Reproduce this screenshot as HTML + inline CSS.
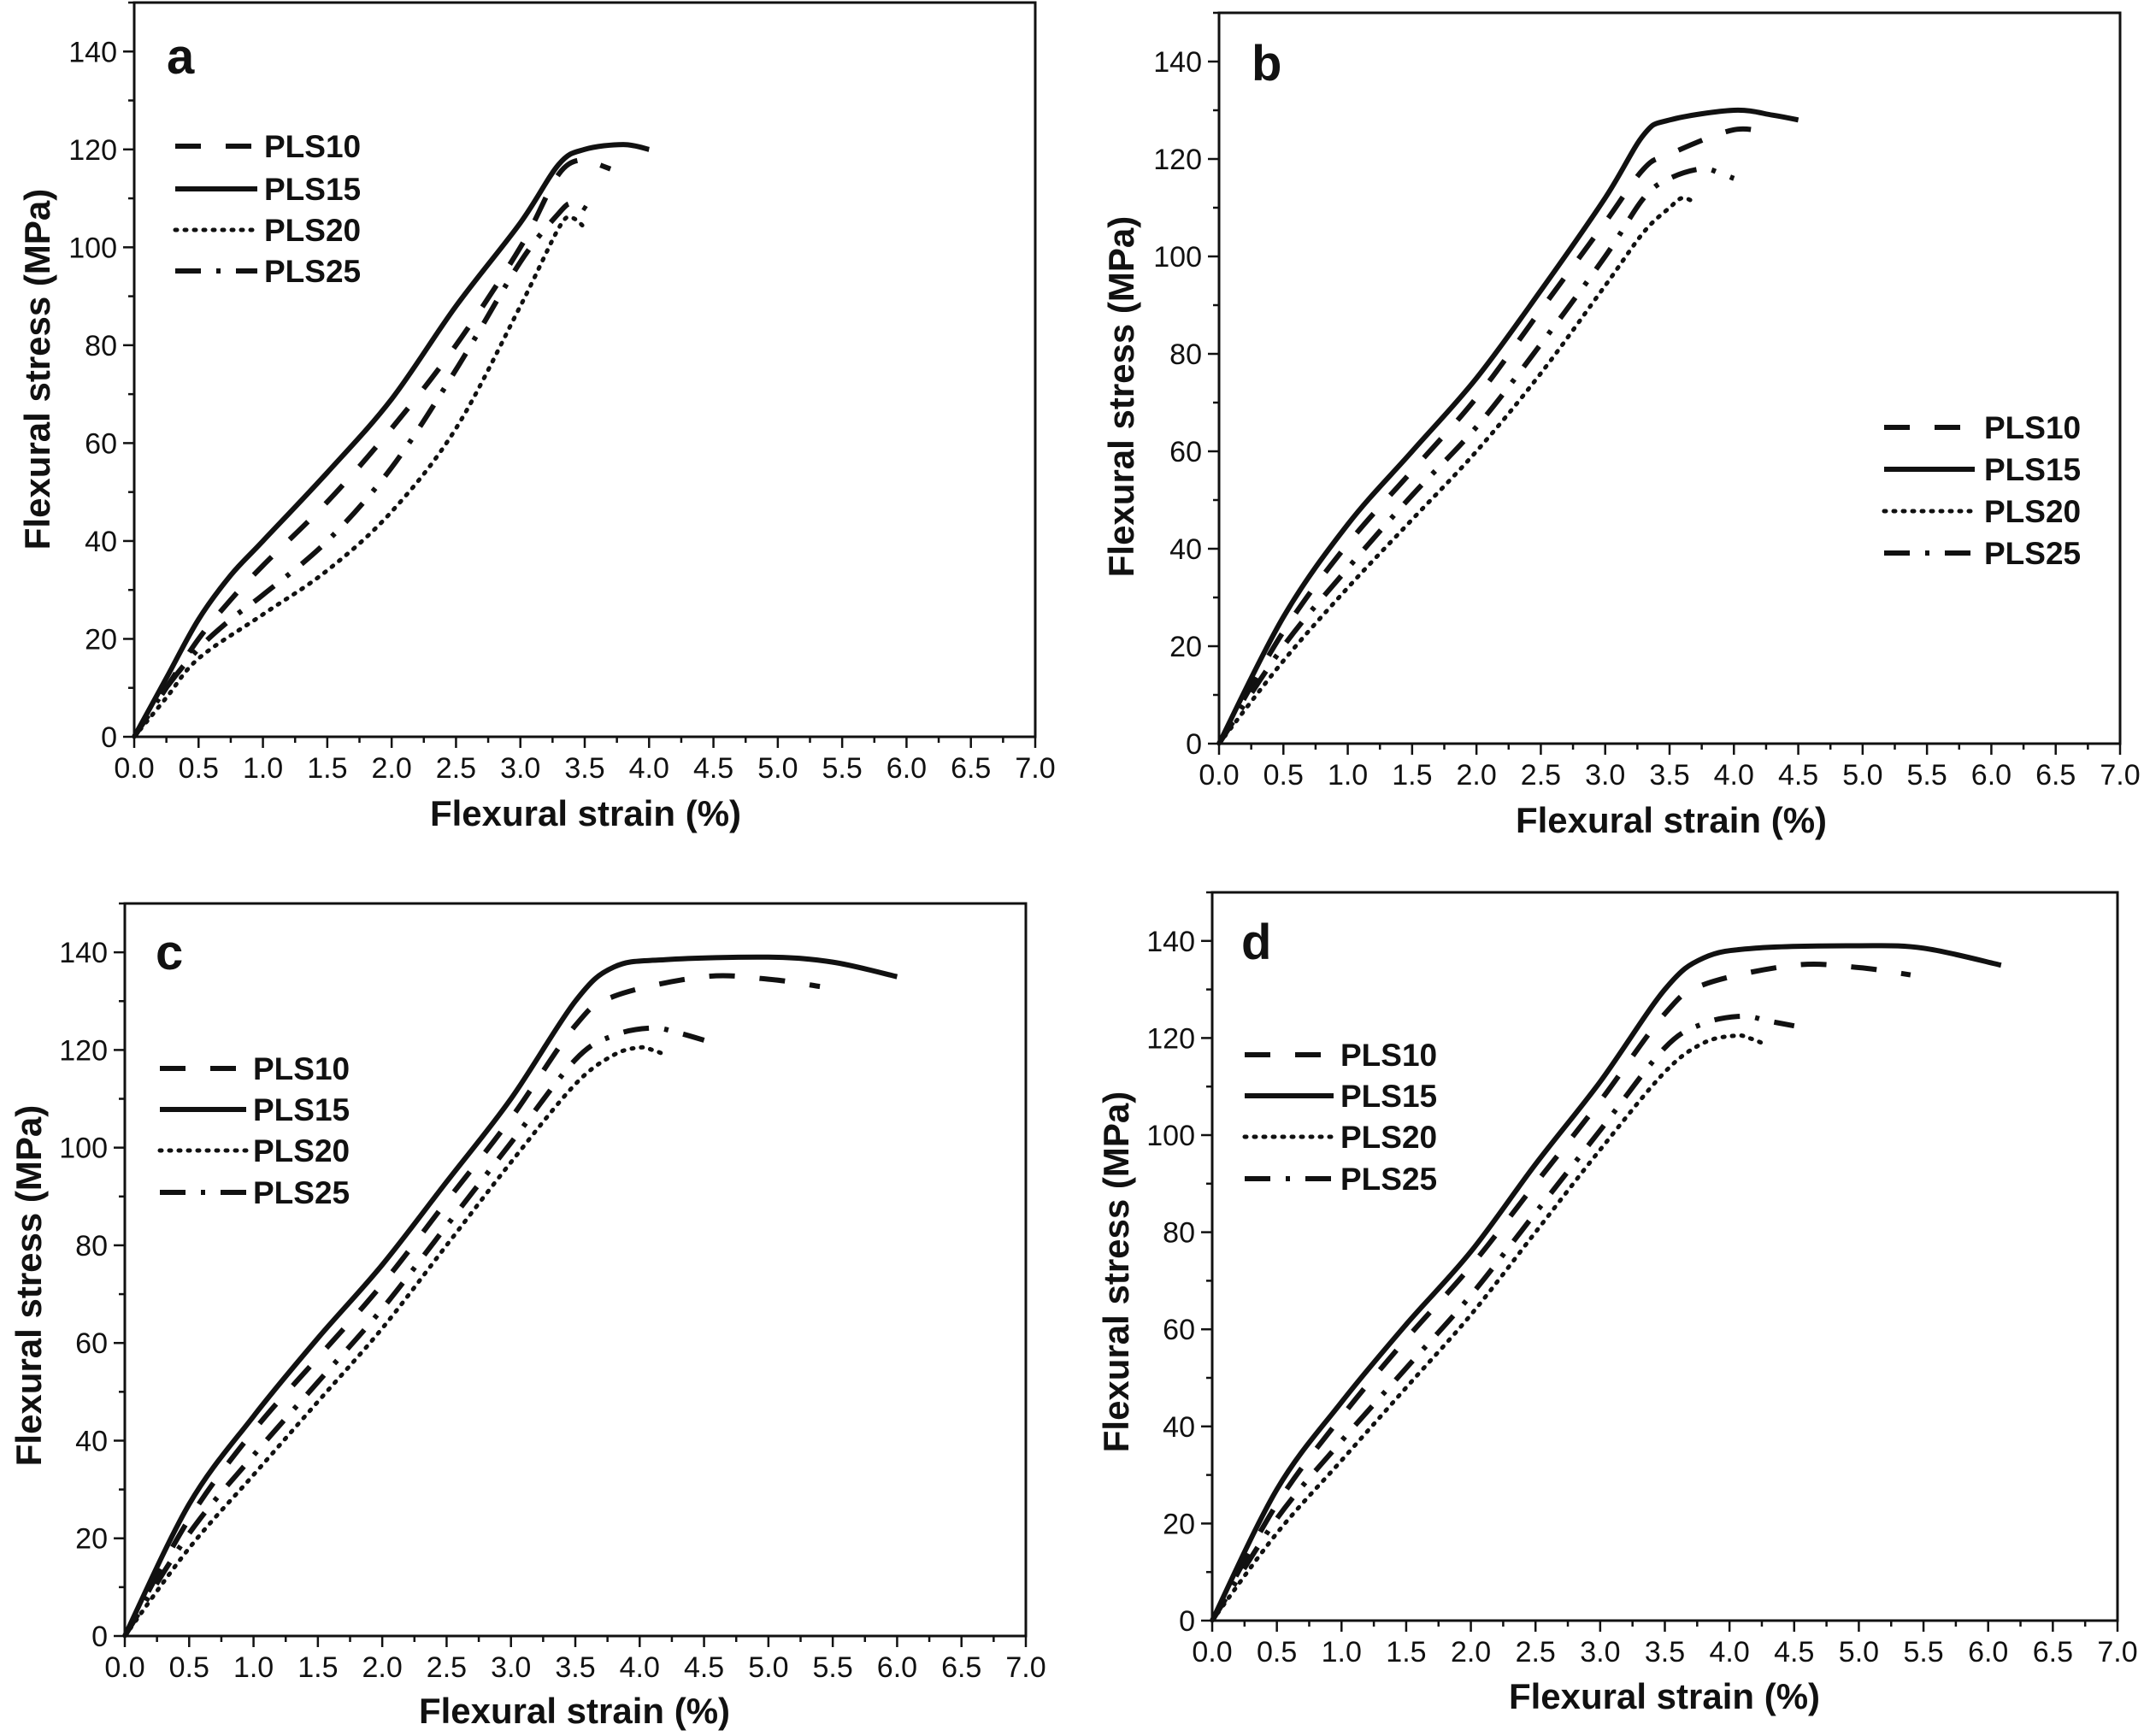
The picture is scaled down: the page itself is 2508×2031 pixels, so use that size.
<!DOCTYPE html>
<html><head><meta charset="utf-8"><style>
html,body{margin:0;padding:0;background:#fff;}
svg{display:block;}
text{font-family:"Liberation Sans",Arial,sans-serif;fill:#111;}
</style></head><body>
<svg id="fig" width="2508" height="2031" viewBox="0 0 2508 2031" xmlns="http://www.w3.org/2000/svg"></svg>
<script>
// ---- data (strain %, stress MPa) ----
const seriesNames = ["PLS10","PLS15","PLS20","PLS25"];
const xTicks = [0,0.5,1,1.5,2,2.5,3,3.5,4,4.5,5,5.5,6,6.5,7];
const yTicks = [0,20,40,60,80,100,120,140];

const a_PLS15 = [[0,0],[0.25,12],[0.5,24],[0.75,33],[1.0,40],[1.5,54],[2.0,69],[2.5,88],[3.0,105],[3.3,117],[3.5,120],[3.8,121],[4.0,120]];
const a_PLS10 = [[0,0],[0.25,10],[0.5,20],[0.75,28],[1.0,35],[1.5,48],[2.0,63],[2.5,80],[3.0,100],[3.3,115],[3.5,118],[3.6,117],[3.7,116]];
const a_PLS20 = [[0,0],[0.25,8],[0.5,16],[1.0,25],[1.5,34],[2.0,46],[2.5,63],[3.0,88],[3.3,104],[3.4,106],[3.5,104]];
const a_PLS25 = [[0,0],[0.25,10],[0.5,18],[0.75,24],[1.0,29],[1.5,40],[2.0,55],[2.5,75],[3.0,97],[3.3,107],[3.4,109],[3.5,108],[3.6,106]];

const b_PLS15 = [[0,0],[0.5,26],[1.0,45],[1.5,60],[2.0,75],[2.5,93],[3.0,112],[3.3,125],[3.5,128],[4.0,130],[4.3,129],[4.5,128]];
const b_PLS10 = [[0,0],[0.5,23],[1.0,41],[1.5,56],[2.0,71],[2.5,89],[3.0,107],[3.3,118],[3.5,121],[4.0,126],[4.3,125]];
const b_PLS20 = [[0,0],[0.5,17],[1.0,32],[1.5,46],[2.0,60],[2.5,76],[3.0,94],[3.3,105],[3.5,110],[3.6,112],[3.7,111]];
const b_PLS25 = [[0,0],[0.5,20],[1.0,36],[1.5,51],[2.0,65],[2.5,82],[3.0,100],[3.3,112],[3.5,116],[3.75,118],[3.9,117],[4.0,116]];

const c_PLS15 = [[0,0],[0.5,27],[1.0,45],[1.5,61],[2.0,76],[2.5,93],[3.0,110],[3.5,130],[3.8,137],[4.2,138.5],[5.0,139],[5.5,138],[6.0,135]];
const c_PLS10 = [[0,0],[0.5,24],[1.0,42],[1.5,57],[2.0,72],[2.5,89],[3.0,106],[3.5,125],[3.8,131],[4.5,135],[5.0,134.5],[5.4,133]];
const c_PLS20 = [[0,0],[0.5,18],[1.0,33],[1.5,48],[2.0,63],[2.5,80],[3.0,97],[3.5,113],[3.8,119],[4.0,120.5],[4.1,120],[4.2,119]];
const c_PLS25 = [[0,0],[0.5,21],[1.0,37],[1.5,52],[2.0,67],[2.5,84],[3.0,101],[3.5,118],[3.8,123],[4.1,124.5],[4.3,123.5],[4.5,122]];

const d_PLS15 = [[0,0],[0.5,27],[1.0,45],[1.5,61],[2.0,76],[2.5,94],[3.0,111],[3.5,130],[3.8,136.5],[4.2,138.5],[5.0,139],[5.5,138.5],[6.1,135]];
const d_PLS10 = [[0,0],[0.5,24],[1.0,42],[1.5,58],[2.0,73],[2.5,90],[3.0,107],[3.5,125],[3.8,131],[4.5,135],[5.0,134.5],[5.4,133]];
const d_PLS20 = [[0,0],[0.5,18],[1.0,33],[1.5,48],[2.0,63],[2.5,80],[3.0,97],[3.5,113],[3.8,119],[4.05,120.5],[4.15,120],[4.25,119]];
const d_PLS25 = [[0,0],[0.5,21],[1.0,37],[1.5,52],[2.0,67],[2.5,84],[3.0,101],[3.5,118],[3.8,123],[4.1,124.5],[4.3,123.5],[4.5,122.5]];

// ---- layout ----
const panels = [
 {id:"a",L:157,R:1211,B:862,T:3,data:[a_PLS10,a_PLS15,a_PLS20,a_PLS25],leg:{x1:205,x2:301,tx:309,y:[171,221,269,317]},lab:[195,86],xt:[685,966],yt:[44,432]},
 {id:"b",L:1426,R:2480,B:870,T:15,data:[b_PLS10,b_PLS15,b_PLS20,b_PLS25],leg:{x1:2204,x2:2310,tx:2321,y:[500,549,598,647]},lab:[1464,94],xt:[1955,974],yt:[1312,464]},
 {id:"c",L:146,R:1200,B:1914,T:1057,data:[c_PLS10,c_PLS15,c_PLS20,c_PLS25],leg:{x1:187,x2:288,tx:296,y:[1250,1298,1346,1395]},lab:[182,1134],xt:[672,2016],yt:[34,1504]},
 {id:"d",L:1418,R:2477,B:1896,T:1044,data:[d_PLS10,d_PLS15,d_PLS20,d_PLS25],leg:{x1:1456,x2:1560,tx:1568,y:[1234,1282,1330,1379]},lab:[1452,1122],xt:[1947,1999],yt:[1306,1488]}
];
const dashes = ["30,29","", "2,9", "30,18,5,18"];
const NS="http://www.w3.org/2000/svg";
const svg=document.getElementById("fig");
function mk(tag,attrs,parent){const e=document.createElementNS(NS,tag);for(const k in attrs)e.setAttribute(k,attrs[k]);(parent||svg).appendChild(e);return e;}
function smoothPath(pts){
  let d="M"+pts[0][0].toFixed(1)+","+pts[0][1].toFixed(1);
  for(let i=0;i<pts.length-1;i++){
    const p0=pts[i-1]||pts[i],p1=pts[i],p2=pts[i+1],p3=pts[i+2]||p2;
    const c1=[p1[0]+(p2[0]-p0[0])/6,p1[1]+(p2[1]-p0[1])/6];
    const c2=[p2[0]-(p3[0]-p1[0])/6,p2[1]-(p3[1]-p1[1])/6];
    d+=" C"+c1[0].toFixed(1)+","+c1[1].toFixed(1)+" "+c2[0].toFixed(1)+","+c2[1].toFixed(1)+" "+p2[0].toFixed(1)+","+p2[1].toFixed(1);
  }
  return d;
}
panels.forEach(p=>{
  const g=mk("g",{});
  
  
  const sx=v=>p.L+(v/7)*(p.R-p.L);
  const sy=v=>p.B-(v/150)*(p.B-p.T);
  const frame=mk("rect",{x:p.L,y:p.T,width:p.R-p.L,height:p.B-p.T,fill:"none",stroke:"#111","stroke-width":3},g);
  
  
  for(let v=0;v<=7.0001;v+=0.25){
    const major=Math.abs(v*2-Math.round(v*2))<1e-6;
    const t=mk("line",{x1:sx(v),x2:sx(v),y1:p.B,y2:p.B+(major?13:7),stroke:"#111","stroke-width":2.5},g);
    
    
  }
  xTicks.forEach(v=>{
    const t=mk("text",{x:sx(v),y:p.B+48,"font-size":34,"text-anchor":"middle"},g);
    t.textContent=v.toFixed(1);
    
    
  });
  for(let v=0;v<=150;v+=10){
    const major=v%20===0;
    const t=mk("line",{x1:p.L,x2:p.L-(major?13:7),y1:sy(v),y2:sy(v),stroke:"#111","stroke-width":2.5},g);
    
    
  }
  yTicks.forEach(v=>{
    const t=mk("text",{x:p.L-20,y:sy(v)+12,"font-size":34,"text-anchor":"end"},g);
    t.textContent=String(v);
    
    
  });
  const xt=mk("text",{x:p.xt[0],y:p.xt[1],"font-size":42,"font-weight":"bold","text-anchor":"middle"},g);
  xt.textContent="Flexural strain (%)";
  
  
  const yt=mk("text",{x:0,y:0,"font-size":42,"font-weight":"bold","text-anchor":"middle",transform:`translate(${p.yt[0]+14},${p.yt[1]}) rotate(-90)`},g);
  yt.textContent="Flexural stress (MPa)";
  
  
  const lb=mk("text",{x:p.lab[0],y:p.lab[1],"font-size":58,"font-weight":"bold"},g);
  lb.textContent=p.id;
  
  
  p.data.forEach((s,i)=>{
    const pts=s.map(q=>[sx(q[0]),sy(q[1])]);
    const path=mk("path",{d:smoothPath(pts),fill:"none",stroke:"#111","stroke-width":i===2?5:6,"stroke-dasharray":dashes[i]||"none","stroke-linecap":i===2?"round":"butt","stroke-linejoin":"round"},g);
    
    
    const y=p.leg.y[i];
    const ll=mk("line",{x1:p.leg.x1,x2:p.leg.x2,y1:y,y2:y,stroke:"#111","stroke-width":i===2?5:6,"stroke-dasharray":dashes[i]||"none","stroke-linecap":i===2?"round":"butt"},g);
    
    
    const lt=mk("text",{x:p.leg.tx,y:y+13,"font-size":37,"font-weight":"bold"},g);
    lt.textContent=seriesNames[i];
    
    
  });
});
</script>
</body></html>
